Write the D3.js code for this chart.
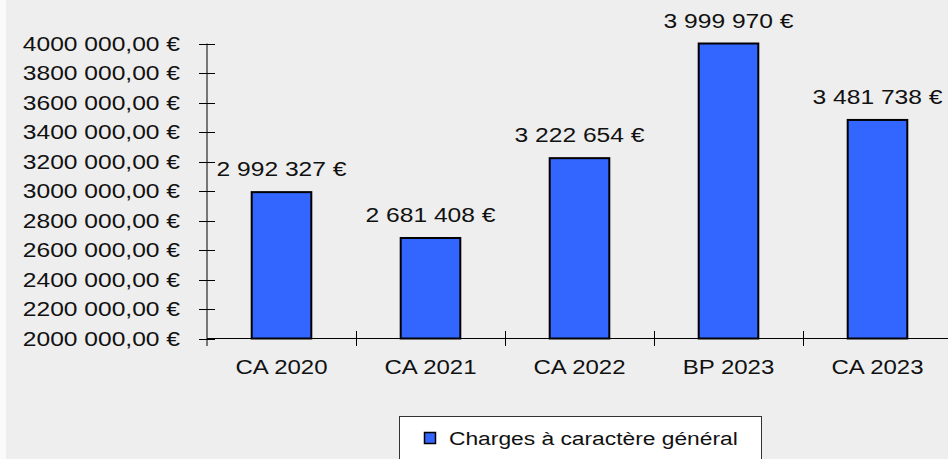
<!DOCTYPE html>
<html>
<head>
<meta charset="utf-8">
<script src="https://cdn.jsdelivr.net/npm/d3@7"></script>
<style>
  html, body { margin: 0; padding: 0; background: #eeeeee; }
  svg { display: block; }
  text { font-family: "Liberation Sans", Arial, sans-serif; fill: #111; }
</style>
</head>
<body>
<svg id="chart"></svg>
<script>
const categories = ['CA 2020', 'CA 2021', 'CA 2022', 'BP 2023', 'CA 2023']
const values = [2992327, 2681408, 3222654, 3999970, 3481738]
const yTicks = [2000000, 2200000, 2400000, 2600000, 2800000, 3000000, 3200000, 3400000, 3600000, 3800000, 4000000]
const yTickLabels = ['2000 000,00 €', '2200 000,00 €', '2400 000,00 €', '2600 000,00 €', '2800 000,00 €',
    '3000 000,00 €', '3200 000,00 €', '3400 000,00 €', '3600 000,00 €', '3800 000,00 €', '4000 000,00 €']
const seriesName = 'Charges à caractère général'

buildChart()

function buildChart() {
    const width = 948
    const height = 459
    const left = 207
    const step = 149
    const stretch = 1.2

    const svg = d3.select('#chart')
        .attr('width', width)
        .attr('height', height)

    svg.append('rect')
        .attr('width', width)
        .attr('height', height)
        .style('fill', '#eeeeee')

    svg.append('rect')
        .attr('width', 6)
        .attr('height', height)
        .style('fill', '#fafafa')

    const x = d3.scaleBand()
        .domain(categories)
        .range([left, left + step * categories.length])
        .paddingInner(0.6)
        .paddingOuter(0.3)

    const y = d3.scaleLinear()
        .domain([2000000, 4000000])
        .range([338.5, 43.5])

    const fmt = v => d3.format(',')(v).replace(/,/g, ' ') + ' €'

    // stretched text, the reference glyphs are wider than Arial
    function label(px, py, str, anchor, size) {
        svg.append('g')
            .attr('transform', `translate(${px},${py}) scale(${stretch},1)`)
            .append('text')
            .attr('text-anchor', anchor)
            .style('font-size', size + 'px')
            .text(str)
    }

    // y axis
    svg.append('line')
        .attr('x1', left).attr('x2', left)
        .attr('y1', y(4000000)).attr('y2', 346)
        .style('stroke', '#000')
    yTicks.forEach((t, i) => {
        svg.append('line')
            .attr('x1', left - 8).attr('x2', left + 8)
            .attr('y1', Math.round(y(t)) + 0.5).attr('y2', Math.round(y(t)) + 0.5)
            .style('stroke', '#000')
        label(180, y(t) + 7, yTickLabels[i], 'end', 20.5)
    })

    // bars
    svg.selectAll('rect.bar')
        .data(values)
        .join('rect')
        .attr('class', 'bar')
        .attr('x', (d, i) => x(categories[i]))
        .attr('y', d => y(d))
        .attr('width', x.bandwidth())
        .attr('height', d => y(2000000) - y(d))
        .style('fill', '#3366ff')
        .style('stroke', '#000')
        .style('stroke-width', 2)

    values.forEach((v, i) => {
        label(x(categories[i]) + x.bandwidth() / 2, y(v) - 16, fmt(v), 'middle', 20.5)
    })

    // x axis
    svg.append('line')
        .attr('x1', left).attr('x2', width)
        .attr('y1', 338.5).attr('y2', 338.5)
        .style('stroke', '#000')
    for (let i = 1; i <= categories.length; i++) {
        svg.append('line')
            .attr('x1', left + i * step + 0.5).attr('x2', left + i * step + 0.5)
            .attr('y1', 331).attr('y2', 346)
            .style('stroke', '#000')
    }
    categories.forEach(c => {
        label(x(c) + x.bandwidth() / 2, 374, c, 'middle', 20)
    })

    // legend
    svg.append('rect')
        .attr('x', 399.5).attr('y', 416.5)
        .attr('width', 362).attr('height', 60)
        .style('fill', '#fff')
        .style('stroke', '#333')
    svg.append('rect')
        .attr('x', 424.5).attr('y', 432.5)
        .attr('width', 11).attr('height', 11)
        .style('fill', '#3366ff')
        .style('stroke', '#000')
        .style('stroke-width', 1.5)
    label(449, 445, seriesName, 'start', 19)
}
</script>
</body>
</html>
